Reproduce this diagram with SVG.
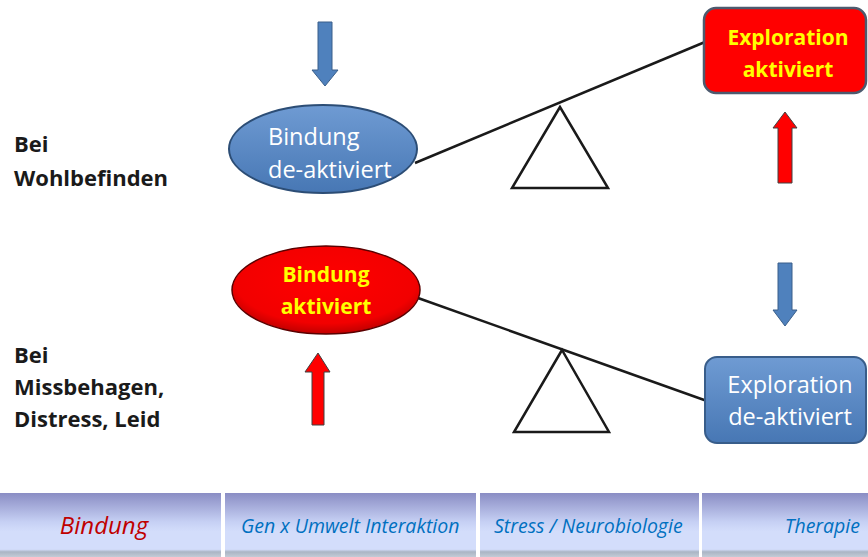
<svg xmlns="http://www.w3.org/2000/svg" width="868" height="557" viewBox="0 0 868 557">
<defs>
<linearGradient id="gBlue" x1="0" y1="0" x2="0" y2="1"><stop offset="0" stop-color="#6f9bd3"/><stop offset="1" stop-color="#4777b4"/></linearGradient>
<radialGradient id="gRed" cx="0.5" cy="0.4" r="0.6"><stop offset="0" stop-color="#ff0000"/><stop offset="0.8" stop-color="#f20000"/><stop offset="1" stop-color="#c00000"/></radialGradient>
<linearGradient id="gBar" x1="0" y1="0" x2="0" y2="1"><stop offset="0" stop-color="#8a8dc4"/><stop offset="0.45" stop-color="#c6d0f4"/><stop offset="0.6" stop-color="#d3ddfb"/><stop offset="0.88" stop-color="#d3ddfb"/><stop offset="0.92" stop-color="#aab5c4"/><stop offset="1" stop-color="#c3cbd6"/></linearGradient>
</defs>
<style>
.lbl{font-family:"Open Sans","Liberation Sans",sans-serif;font-weight:bold;font-size:22px;fill:#1a1a1a}
.w{font-family:"Open Sans","Liberation Sans",sans-serif;font-size:23.5px;fill:#ffffff}
.y{font-family:"Open Sans","Liberation Sans",sans-serif;font-weight:bold;font-size:21px;fill:#ffff00;text-anchor:middle}
.bar{font-family:"Open Sans","Liberation Sans",sans-serif;font-style:italic;font-size:19.5px;fill:#0070c0}
.ba{stroke:#3a5f8a;stroke-width:1;fill:#4f81bd}
.ra{stroke:#404040;stroke-width:1;fill:#ff0000}
.beam{stroke:#1a1a1a;stroke-width:2.5;fill:none}
.tri{stroke:#1a1a1a;stroke-width:2.5;fill:#ffffff}
</style>
<rect width="868" height="557" fill="#ffffff"/>

<g id="labels">
<text class="lbl" x="14" y="152">Bei</text>
<text class="lbl" x="14" y="186">Wohlbefinden</text>
<text class="lbl" x="14" y="363">Bei</text>
<text class="lbl" x="14" y="395">Missbehagen,</text>
<text class="lbl" x="14" y="427">Distress, Leid</text>
</g>

<g id="connectors">
<line class="beam" x1="415" y1="163" x2="705" y2="42"/>
<polygon class="tri" points="560,107 512,188 608,188"/>
<line class="beam" x1="418" y1="298" x2="707" y2="401"/>
<polygon class="tri" points="562,350 514,432 609,432"/>
</g>

<g id="arrows">
<polygon class="ba" points="318,22 332,22 332,70 338,70 325,86 312,70 318,70"/>
<polygon class="ra" points="785,112 797,128 792,128 792,183 778,183 778,128 773,128"/>
<polygon class="ra" points="318,353 330,372 324,372 324,425 312,425 312,372 305,372"/>
<polygon class="ba" points="778,263 792,263 792,310 797,310 785,326 773,310 778,310"/>
</g>

<g id="bindung-deaktiviert">
<ellipse cx="323" cy="149" rx="94" ry="44" fill="url(#gBlue)" stroke="#2c4d75" stroke-width="2"/>
<text class="w" x="268" y="145">Bindung</text>
<text class="w" x="268" y="178">de-aktiviert</text>
</g>

<g id="exploration-aktiviert">
<rect x="704" y="8" width="162" height="85" rx="12" fill="#ff0000" stroke="#4d5a6e" stroke-width="2.5"/>
<text class="y" x="788" y="45">Exploration</text>
<text class="y" x="788" y="77">aktiviert</text>
</g>

<g id="bindung-aktiviert">
<ellipse cx="326" cy="290" rx="94" ry="44" fill="url(#gRed)" stroke="#5a0000" stroke-width="1.5"/>
<text class="y" x="326" y="282">Bindung</text>
<text class="y" x="326" y="314">aktiviert</text>
</g>

<g id="exploration-deaktiviert">
<rect x="705" y="357" width="161" height="86" rx="12" fill="url(#gBlue)" stroke="#385d8a" stroke-width="2"/>
<text class="w" x="790" y="393" text-anchor="middle">Exploration</text>
<text class="w" x="790" y="425" text-anchor="middle">de-aktiviert</text>
</g>

<g id="bar">
<rect x="0" y="493" width="221" height="64" fill="url(#gBar)"/>
<rect x="225" y="493" width="251" height="64" fill="url(#gBar)"/>
<rect x="480" y="493" width="219" height="64" fill="url(#gBar)"/>
<rect x="702" y="493" width="166" height="64" fill="url(#gBar)"/>
<text class="bar" x="104" y="534" text-anchor="middle" style="font-size:24px;fill:#c00000">Bindung</text>
<text class="bar" x="241" y="533">Gen x Umwelt Interaktion</text>
<text class="bar" x="494" y="533">Stress / Neurobiologie</text>
<text class="bar" x="860" y="533" text-anchor="end">Therapie</text>
</g>
</svg>
